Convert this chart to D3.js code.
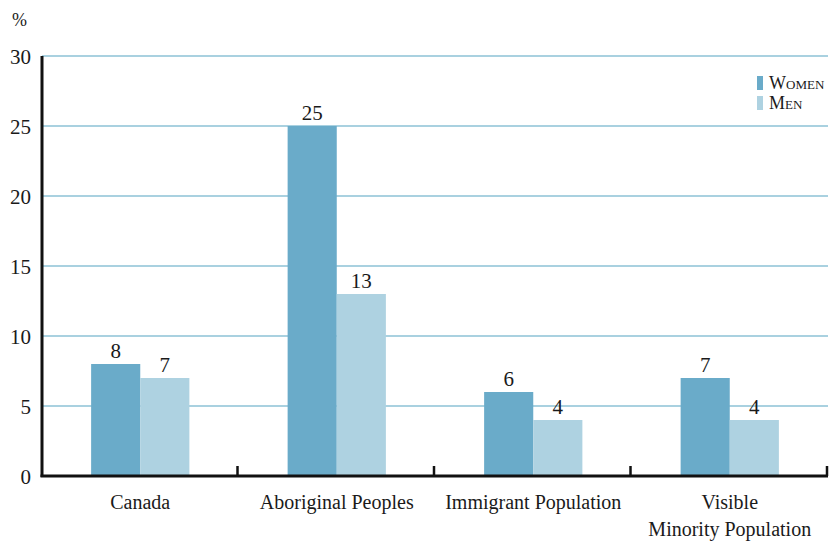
<!DOCTYPE html>
<html>
<head>
<meta charset="utf-8">
<script src="https://cdn.jsdelivr.net/npm/d3@7"></script>
<style>
  body { margin: 0; background: #fff; }
</style>
</head>
<body>
<svg id="chart" width="829" height="542"></svg>
<script>
// 数据
const categories = ["Canada", "Aboriginal Peoples", "Immigrant Population", "Visible\nMinority Population"];
const women = [8, 25, 6, 7];
const men = [7, 13, 4, 4];
const seriesNames = ["Women", "Men"];
const yTicks = [0, 5, 10, 15, 20, 25, 30];

const colors = { women: "#6aabc9", men: "#aed2e1", grid: "#8cc2d6" };
const FONT = "Liberation Serif";

const margin = { top: 56, right: 1, bottom: 66, left: 42 };
const width = 829 - margin.left - margin.right;
const height = 542 - margin.top - margin.bottom;

const svg = d3.select("#chart");
const g = svg.append("g").attr("transform", `translate(${margin.left},${margin.top})`);

const x = d3.scaleBand().domain(categories).range([0, width]).paddingInner(0).paddingOuter(0);
const xSub = d3.scaleBand().domain(seriesNames).range([x.bandwidth() * 0.25, x.bandwidth() * 0.75]);
const y = d3.scaleLinear().domain([0, 30]).range([height, 0]);

function label(sel, size) {
  return sel.style("font-family", FONT)
    .style("font-size", size + "px").style("fill", "#1a1a1a");
}

// 网格线
g.selectAll(".grid").data(yTicks.filter(d => d > 0)).enter()
  .append("line")
  .attr("x1", 0).attr("x2", width)
  .attr("y1", d => y(d)).attr("y2", d => y(d))
  .style("stroke", colors.grid).style("stroke-width", 1.5);

// y 轴刻度标签
label(g.selectAll(".ylab").data(yTicks).enter()
  .append("text")
  .attr("x", -11).attr("y", d => y(d) + 8)
  .attr("text-anchor", "end"), 21)
  .text(d => d);

label(svg.append("text").attr("x", 12).attr("y", 26), 18).text("%");

// 柱子
const rows = categories.map((c, i) => ({ cat: c, vals: [women[i], men[i]] }));
const groups = g.selectAll(".grp").data(rows).enter()
  .append("g").attr("transform", d => `translate(${x(d.cat)},0)`);

groups.selectAll("rect").data(d => d.vals.map((v, j) => ({ v, s: seriesNames[j] }))).enter()
  .append("rect")
  .attr("x", d => xSub(d.s))
  .attr("width", xSub.bandwidth())
  .attr("y", d => y(d.v))
  .attr("height", d => height - y(d.v))
  .style("fill", d => d.s === "Women" ? colors.women : colors.men);

label(groups.selectAll(".val").data(d => d.vals.map((v, j) => ({ v, s: seriesNames[j] }))).enter()
  .append("text")
  .attr("x", d => xSub(d.s) + xSub.bandwidth() / 2)
  .attr("y", d => y(d.v) - 6)
  .attr("text-anchor", "middle"), 21)
  .text(d => d.v);

// 坐标轴
g.append("line").attr("x1", 0).attr("x2", 0).attr("y1", 0).attr("y2", height + 1)
  .style("stroke", "#111").style("stroke-width", 3);
g.append("line").attr("x1", -1.5).attr("x2", width).attr("y1", height).attr("y2", height)
  .style("stroke", "#111").style("stroke-width", 3);

// 分组刻度
g.selectAll(".tick").data(categories).enter()
  .append("line")
  .attr("x1", d => x(d) + x.bandwidth() - 1).attr("x2", d => x(d) + x.bandwidth() - 1)
  .attr("y1", height - 10).attr("y2", height)
  .style("stroke", "#111").style("stroke-width", 2.5);

// 类别标签
groups.each(function(d) {
  const lines = d.cat.split("\n");
  const t = label(d3.select(this).append("text")
    .attr("x", x.bandwidth() / 2)
    .attr("y", height + 33)
    .attr("text-anchor", "middle"), 20);
  lines.forEach((l, i) => {
    t.append("tspan").attr("x", x.bandwidth() / 2).attr("dy", i === 0 ? 0 : 27).text(l);
  });
});

// 图例
const legend = svg.append("g").attr("transform", "translate(757,76)");
seriesNames.forEach((s, i) => {
  legend.append("rect").attr("x", 0).attr("y", i * 20).attr("width", 6).attr("height", 14)
    .style("fill", i === 0 ? colors.women : colors.men);
  label(legend.append("text").attr("x", 12).attr("y", i * 20 + 13), 18)
    .style("font-variant", "small-caps")
    .text(s);
});
</script>
</body>
</html>
